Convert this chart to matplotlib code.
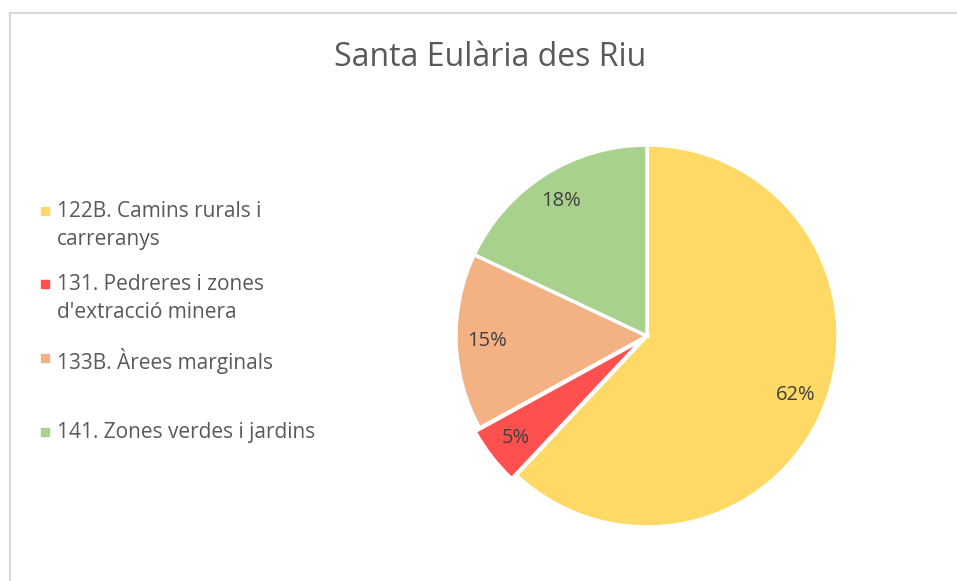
import matplotlib
matplotlib.use('Agg')
import matplotlib.pyplot as plt
from matplotlib.patches import Rectangle
from matplotlib.lines import Line2D

labels = ['122B. Camins rurals i\ncarreranys',
          "131. Pedreres i zones\nd'extracció minera",
          '133B. Àrees marginals',
          '141. Zones verdes i jardins']
values = [62, 5, 15, 18]
colors = ['#FFD966', '#FF5050', '#F4B183', '#A9D18E']
explode = [0, 0.03, 0, 0]

plt.rcParams['font.family'] = ['Open Sans', 'DejaVu Sans']
txt = '#595959'

W, H = 957, 581
fig = plt.figure(figsize=(W / 100, H / 100), dpi=100)

# light frame (left and top only)
fig.add_artist(Line2D([10 / W, 10 / W], [0, 1 - 13 / H], color='#d9d9d9', lw=1.5))
fig.add_artist(Line2D([10 / W, 1], [1 - 13 / H, 1 - 13 / H], color='#d9d9d9', lw=1.5))

fig.text(490 / W, 1 - 57 / H, 'Santa Eulària des Riu', ha='center', va='center',
         fontsize=23, color=txt)

# pie: center (647, 336) px, radius 191 px
cx, cy, r = 647, 336, 191
pad = 1.1
ax = fig.add_axes([(cx - r * pad) / W, (H - cy - r * pad) / H, 2 * r * pad / W, 2 * r * pad / H])
wedges, texts, autotexts = ax.pie(values, colors=colors, startangle=90, counterclock=False,
                                  explode=explode, autopct='%1.0f%%', pctdistance=0.84,
                                  wedgeprops=dict(edgecolor='white', linewidth=2.5),
                                  textprops=dict(color='#404040', fontsize=14.5))
ax.set_xlim(-pad, pad)
ax.set_ylim(-pad, pad)
ax.set_aspect('equal')
ax.axis('off')

# legend
ys = [211, 284, 358, 432]
for lab, col, y in zip(labels, colors, ys):
    fig.add_artist(Rectangle((41 / W, 1 - (y + 4) / H), 8 / W, 8 / H, color=col,
                             transform=fig.transFigure))
    fig.text(57 / W, 1 - (y - 10) / H, lab, ha='left', va='top', fontsize=15,
             color=txt, linespacing=1.42)

fig.savefig('out.png', dpi=100)
